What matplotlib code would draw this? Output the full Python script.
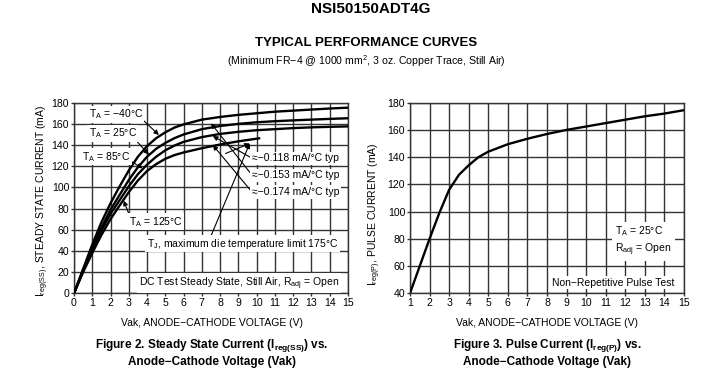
import matplotlib
matplotlib.use("Agg")
import matplotlib.pyplot as plt

plt.rcParams['font.family'] = ['Liberation Sans', 'DejaVu Sans']
plt.rcParams['mathtext.fontset'] = 'custom'
plt.rcParams['mathtext.rm'] = 'Liberation Sans'
plt.rcParams['mathtext.it'] = 'Liberation Sans'
plt.rcParams['mathtext.bf'] = 'Liberation Sans:bold'

# ---------------- data: Figure 2 (steady state) ----------------
v_ss = [0, 0.5, 1, 1.5, 2, 2.5, 3, 3.5, 4, 4.5, 5, 5.5, 6, 7, 8, 9, 10, 11, 12, 13, 14, 15]
i_m40 = [0, 23, 46, 67, 85, 101, 116, 129, 139, 146.5, 152, 156.5, 159.5, 164, 166.5, 168.5, 170, 171.5, 172.5, 173.5, 174.5, 175.3]
i_25 = [0, 22, 43, 62, 79, 93, 107, 119, 129, 136.5, 142, 146.5, 150, 155, 158, 160, 161.5, 162.5, 163.3, 164, 164.7, 165.3]
i_85 = [0, 21, 41, 59, 75, 88, 101, 112.5, 121.5, 129, 135, 139.5, 143, 147.5, 150.5, 152.5, 154, 155, 156, 156.7, 157.2, 157.6]
v_125 = [0, 0.5, 1, 1.5, 2, 2.5, 3, 3.5, 4, 4.5, 5, 5.5, 6, 7, 8, 9, 10, 10.2]
i_125 = [0, 20, 38, 55, 70, 83, 95.5, 106.5, 115.5, 122, 127, 130.5, 133, 137, 140.5, 143.5, 146, 146.5]

# ---------------- data: Figure 3 (pulse) ----------------
v_p = [1, 1.5, 2, 2.5, 3, 3.5, 4, 4.5, 5, 6, 7, 8, 9, 10, 11, 12, 13, 14, 15]
i_p = [40, 60, 80, 99, 116, 127, 134, 140, 144, 149.5, 153.5, 157, 160, 162.5, 165, 167.5, 170, 172, 174.5]

x_ticks_ss = list(range(0, 16))
y_ticks_ss = list(range(0, 181, 20))
x_ticks_p = list(range(1, 16))
y_ticks_p = list(range(40, 181, 20))

fig = plt.figure(figsize=(7.19, 3.81), dpi=100)
fig.patch.set_facecolor('white')

grid_col = '#333333'
fs_tick = 7.6
fs_ann = 7.5

def style_axes(ax, xt, yt):
    ax.set_xticks(xt)
    ax.set_yticks(yt)
    ax.set_xlim(xt[0], xt[-1])
    ax.set_ylim(yt[0], yt[-1])
    ax.grid(True, color=grid_col, lw=1.0)
    ax.set_axisbelow(True)
    for s in ax.spines.values():
        s.set_color(grid_col)
        s.set_linewidth(1.0)
    ax.tick_params(length=2, width=1.0, labelsize=fs_tick, pad=1.5, colors=grid_col, labelcolor='black')

axL = fig.add_axes([0.1029, 0.2302, 0.3811, 0.5003])
axR = fig.add_axes([0.5702, 0.2302, 0.3811, 0.5003])
style_axes(axL, x_ticks_ss, y_ticks_ss)
style_axes(axR, x_ticks_p, y_ticks_p)

lw = 1.7
for i_s in (i_m40, i_25, i_85):
    axL.plot(v_ss, i_s, color='black', lw=lw, solid_capstyle='butt', solid_joinstyle='round', zorder=3)
axL.plot(v_125, i_125, color='black', lw=lw, solid_capstyle='butt', solid_joinstyle='round', zorder=3)
axR.plot(v_p, i_p, color='black', lw=lw, solid_joinstyle='round', zorder=3)

bbox_w = dict(facecolor='white', edgecolor='none', pad=1.2)
ap = dict(arrowstyle='-|>', color='black', lw=0.8, mutation_scale=7, shrinkA=0, shrinkB=0)

def arrow(ax, tail, tip):
    ax.annotate('', xy=tip, xytext=tail, arrowprops=ap, zorder=4)

# labels on left
axL.text(0.8, 169, r'$\mathregular{T_A}$ = −40°C', fontsize=fs_ann, va='center', ha='left', bbox=bbox_w, zorder=5)
axL.text(0.8, 151, r'$\mathregular{T_A}$ = 25°C', fontsize=fs_ann, va='center', ha='left', bbox=bbox_w, zorder=5)
axL.text(0.45, 129, r'$\mathregular{T_A}$ = 85°C', fontsize=fs_ann, va='center', ha='left', bbox=bbox_w, zorder=5)
axL.text(3.0, 67.5, r'$\mathregular{T_A}$ = 125°C', fontsize=fs_ann, va='center', ha='left', bbox=bbox_w, zorder=5)
axL.text(4.0, 47, r'$\mathregular{T_J}$, maximum die temperature limit 175°C', fontsize=fs_ann, va='center', ha='left', bbox=bbox_w, zorder=5)
axL.text(3.55, 9.4, r'DC Test Steady State, Still Air, $\mathregular{R_{adj}}$ = Open', fontsize=fs_ann, va='center', ha='left', bbox=bbox_w, zorder=5)
axL.text(9.75, 127.5, '≈−0.118 mA/°C typ', fontsize=fs_ann, va='center', ha='left', bbox=bbox_w, zorder=5)
axL.text(9.75, 111.5, '≈−0.153 mA/°C typ', fontsize=fs_ann, va='center', ha='left', bbox=bbox_w, zorder=5)
axL.text(9.75, 95.5, '≈−0.174 mA/°C typ', fontsize=fs_ann, va='center', ha='left', bbox=bbox_w, zorder=5)

arrow(axL, (3.6, 166.5), (4.65, 149.5))
arrow(axL, (3.2, 148), (4.1, 131))
arrow(axL, (2.9, 127), (3.75, 118))
arrow(axL, (3.05, 73), (2.72, 87.5))
arrow(axL, (7.47, 53), (9.62, 141.5))
arrow(axL, (8.3, 132), (9.62, 141.5))
arrow(axL, (9.75, 127.5), (7.6, 148.5))
arrow(axL, (9.75, 111.5), (7.5, 160.5))
arrow(axL, (9.75, 95.5), (7.6, 140))

# labels on right
axR.text(11.5, 78.5, r'$\mathregular{T_A}$ = 25°C' + '\n' + r'$\mathregular{R_{adj}}$ = Open', fontsize=fs_ann,
         va='center', ha='left', linespacing=1.35, bbox=dict(facecolor='white', edgecolor='none', pad=2.5), zorder=5)
axR.text(11.4, 47.8, 'Non−Repetitive Pulse Test', fontsize=fs_ann, va='center', ha='center', bbox=bbox_w, zorder=5)

# axis labels
fig.text(43 / 719, 1 - 201 / 381, r'$\mathregular{I_{reg(SS)}}$, STEADY STATE CURRENT (mA)', rotation=90,
         fontsize=7.5, ha='center', va='center')
fig.text(375 / 719, 1 - 214 / 381, r'$\mathregular{I_{reg(P)}}$, PULSE CURRENT (mA)', rotation=90,
         fontsize=7.5, ha='center', va='center')
fig.text(212 / 719, 1 - 323 / 381, 'Vak, ANODE−CATHODE VOLTAGE (V)', fontsize=7.5, ha='center', va='center')
fig.text(547 / 719, 1 - 323 / 381, 'Vak, ANODE−CATHODE VOLTAGE (V)', fontsize=7.5, ha='center', va='center')

# captions
fig.text(212 / 719, 1 - 345 / 381, r'Figure 2. Steady State Current ($\mathbf{I_{reg(SS)}}$) vs.', fontsize=8.5,
         fontweight='bold', ha='center', va='center')
fig.text(212 / 719, 1 - 362 / 381, 'Anode−Cathode Voltage (Vak)', fontsize=8.5, fontweight='bold', ha='center', va='center')
fig.text(547 / 719, 1 - 345 / 381, r'Figure 3. Pulse Current ($\mathbf{I_{reg(P)}}$) vs.', fontsize=8.5,
         fontweight='bold', ha='center', va='center')
fig.text(547 / 719, 1 - 362 / 381, 'Anode−Cathode Voltage (Vak)', fontsize=8.5, fontweight='bold', ha='center', va='center')

# titles
fig.text(371 / 719, 1 - 9 / 381, 'NSI50150ADT4G', fontsize=11, fontweight='bold', ha='center', va='center')
fig.text(366 / 719, 1 - 43 / 381, 'TYPICAL PERFORMANCE CURVES', fontsize=9.5, fontweight='bold', ha='center', va='center')
fig.text(366 / 719, 1 - 61 / 381, r'(Minimum FR−4 @ 1000 mm$^{\mathregular{2}}$, 3 oz. Copper Trace, Still Air)', fontsize=7.6,
         ha='center', va='center')

fig.savefig('out.png', dpi=100, facecolor='white')
